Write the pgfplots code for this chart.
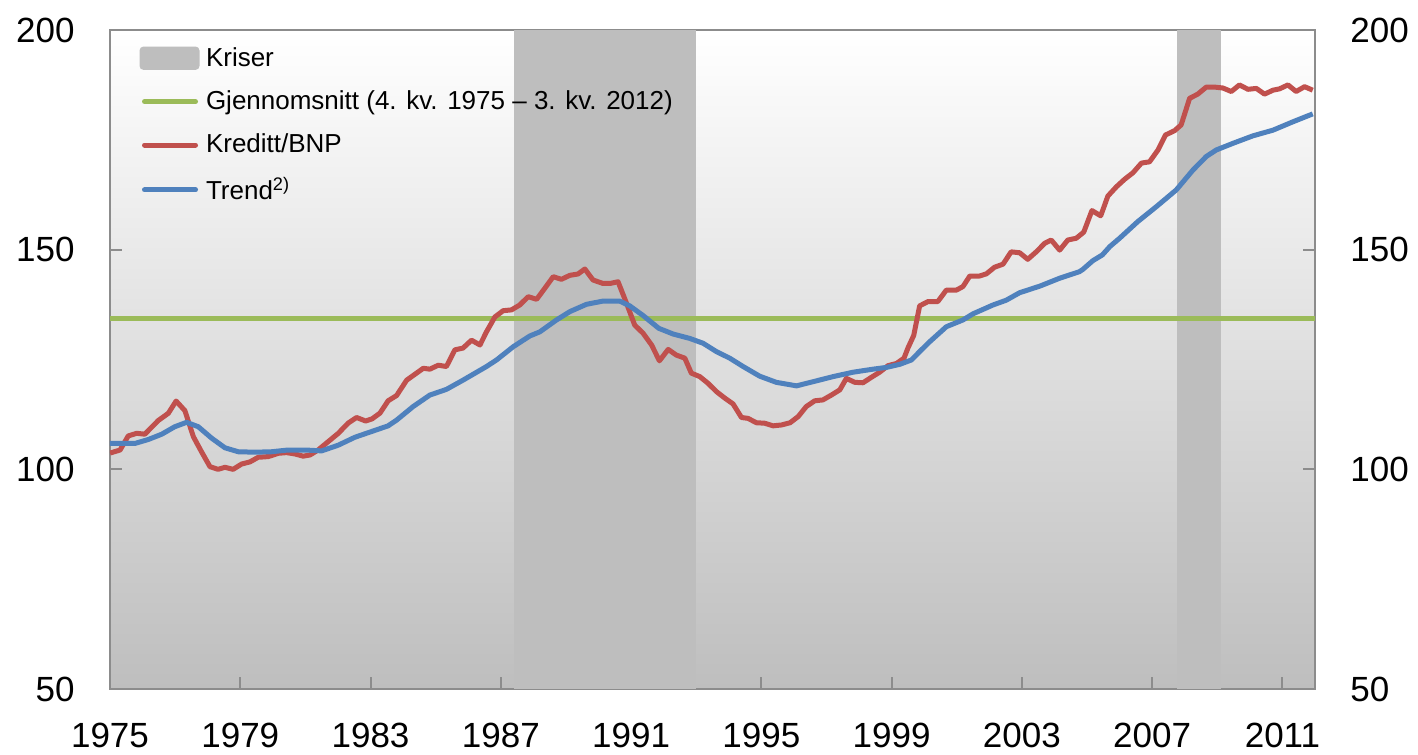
\documentclass[border=0pt]{standalone}
\usepackage{pgfplots}
\pgfplotsset{compat=1.18}
\usepackage{fontspec}
\setmainfont{Liberation Sans}
\definecolor{cred}{HTML}{C0504D}
\definecolor{cblue}{HTML}{4F81BD}
\definecolor{cgreen}{HTML}{9BBB59}
\definecolor{crisis}{RGB}{190,190,190}
\definecolor{bgbot}{RGB}{190,190,190}
\definecolor{axgray}{RGB}{140,140,140}
\begin{document}
\begin{tikzpicture}
\begin{axis}[name=main,
  scale only axis, width=602.5bp, height=329.5bp,
  xmin=1975, xmax=2012, ymin=50, ymax=200,
  axis background/.style={shade, top color=white, bottom color=bgbot},
  axis line style={axgray, line width=1bp},
  tick style={axgray, line width=1bp},
  major tick length=6bp,
  tick align=inside,
  xtick={1975,1979,...,2011},
  xticklabels={1975,1979,1983,1987,1991,1995,1999,2003,2007,2011},
  ytick={50,100,150,200},
  xtick pos=bottom, ytick pos=left,
  /pgf/number format/assume math mode=true,
  ticklabel style={font=\fontsize{17.5bp}{20bp}\selectfont, inner sep=0pt},
  yticklabel style={anchor=east, xshift=-17.5bp},
  xticklabel style={anchor=north, yshift=-17bp},
  legend style={at={(0.0221,0.9804)}, anchor=north west, draw=none, fill=none,
    font=\fontsize{13bp}{15bp}\selectfont, row sep=6.8bp,
    inner sep=0pt, cells={anchor=west}},
  legend cell align=left,
  every axis plot/.append style={line join=round},
]
\addplot[fill=crisis, draw=none, area legend,
  legend image code/.code={\fill[crisis, rounded corners=2bp] (0bp,-5.85bp) rectangle (30bp,5.85bp);}]
  coordinates {(1987.4,50) (1993.0,50) (1993.0,200) (1987.4,200)} -- cycle;
\addlegendentry{Kriser}
\addplot[fill=crisis, draw=none, forget plot]
  coordinates {(2007.75,50) (2009.1,50) (2009.1,200) (2007.75,200)} -- cycle;
\addplot[cgreen, line width=2.5bp,
  legend image code/.code={\path (0bp,0) (30bp,0); \draw[line width=2.5bp, line cap=round] (2.5bp,0) -- (28bp,0);}]
  coordinates {(1975,134.4) (2012,134.4)};
\addlegendentry{Gjennomsnitt (4. kv. 1975 – 3. kv. 2012)}
\addplot[cred, line width=2.5bp,
  legend image code/.code={\path (0bp,0) (30bp,0); \draw[line width=2.5bp, line cap=round] (2.5bp,0) -- (28bp,0);}]
  table {
1975.00 103.7
1975.31 104.4
1975.56 107.6
1975.82 108.2
1976.07 108.0
1976.48 111.1
1976.79 112.75
1977.03 115.55
1977.30 113.35
1977.56 107.43
1977.81 104.0
1978.07 100.6
1978.32 100.0
1978.53 100.46
1978.78 100.0
1979.04 101.2
1979.30 101.7
1979.55 102.74
1979.86 102.9
1980.17 103.65
1980.42 103.8
1980.68 103.5
1980.93 103.0
1981.14 103.26
1981.39 104.4
1981.70 106.3
1982.01 108.2
1982.31 110.5
1982.57 111.8
1982.85 111.0
1983.05 111.5
1983.29 112.8
1983.54 115.6
1983.80 116.8
1984.11 120.3
1984.62 123.0
1984.82 122.8
1985.08 123.7
1985.33 123.4
1985.59 127.2
1985.84 127.6
1986.10 129.4
1986.36 128.3
1986.56 131.3
1986.82 134.7
1987.07 136.1
1987.33 136.3
1987.58 137.4
1987.84 139.3
1988.10 138.7
1988.35 141.2
1988.61 143.85
1988.86 143.25
1989.12 144.16
1989.37 144.46
1989.58 145.6
1989.83 143.1
1990.14 142.3
1990.35 142.3
1990.60 142.7
1990.86 137.8
1991.11 132.85
1991.37 130.96
1991.63 128.3
1991.87 124.7
1992.14 127.3
1992.39 126.0
1992.65 125.3
1992.85 121.9
1993.11 121.1
1993.36 119.6
1993.62 117.7
1993.88 116.2
1994.13 114.9
1994.39 111.8
1994.59 111.6
1994.85 110.6
1995.10 110.5
1995.36 109.9
1995.62 110.1
1995.88 110.6
1996.13 112.0
1996.38 114.3
1996.64 115.6
1996.89 115.8
1997.15 116.9
1997.41 118.1
1997.61 120.7
1997.87 119.8
1998.12 119.7
1998.38 120.95
1998.63 122.1
1998.89 123.6
1999.15 124.1
1999.38 125.3
1999.50 127.6
1999.68 130.5
1999.86 137.2
2000.12 138.2
2000.42 138.2
2000.68 140.8
2000.99 140.8
2001.19 141.6
2001.40 144.0
2001.70 144.0
2001.91 144.5
2002.16 146.0
2002.42 146.7
2002.67 149.5
2002.93 149.3
2003.18 147.8
2003.44 149.5
2003.70 151.45
2003.90 152.2
2004.16 149.9
2004.41 152.2
2004.67 152.6
2004.90 154.0
2005.15 158.9
2005.42 157.7
2005.64 162.2
2005.90 164.3
2006.15 166.0
2006.41 167.5
2006.67 169.7
2006.92 170.0
2007.18 172.7
2007.41 176.1
2007.69 177.1
2007.89 178.4
2008.15 184.45
2008.40 185.4
2008.66 187.0
2008.92 187.0
2009.17 186.8
2009.43 186.0
2009.68 187.5
2009.94 186.5
2010.20 186.7
2010.45 185.4
2010.71 186.3
2010.91 186.6
2011.17 187.5
2011.42 186.0
2011.68 187.1
2011.93 186.3
};
\addlegendentry{Kreditt/BNP}
\addplot[cblue, line width=2.5bp,
  legend image code/.code={\path (0bp,0) (30bp,0); \draw[line width=2.5bp, line cap=round] (2.5bp,0) -- (28bp,0);}]
  table {
1975.00 105.9
1975.77 105.9
1976.18 106.8
1976.59 108.0
1976.99 109.7
1977.35 110.7
1977.71 109.7
1978.12 107.1
1978.53 104.9
1978.94 104.0
1979.45 103.9
1979.96 104.0
1980.47 104.4
1980.99 104.4
1981.50 104.2
1982.01 105.5
1982.52 107.3
1983.03 108.6
1983.54 109.9
1983.80 111.2
1984.31 114.3
1984.82 116.9
1985.33 118.2
1985.84 120.3
1986.56 123.4
1986.87 124.9
1987.38 127.9
1987.89 130.35
1988.20 131.3
1988.71 134.0
1989.12 135.9
1989.63 137.56
1990.14 138.3
1990.65 138.3
1990.96 137.2
1991.37 135.0
1991.85 132.1
1992.29 130.8
1992.80 129.8
1993.21 128.7
1993.62 126.8
1994.03 125.3
1994.44 123.4
1994.95 121.2
1995.46 119.8
1996.08 119.0
1996.59 119.95
1997.20 121.1
1997.81 122.1
1998.43 122.8
1998.84 123.2
1999.25 123.9
1999.61 124.9
1999.86 126.8
2000.17 129.05
2000.68 132.46
2001.19 134.0
2001.50 135.4
2002.11 137.4
2002.52 138.5
2002.93 140.2
2003.55 141.7
2004.16 143.5
2004.77 145.0
2004.87 145.5
2005.18 147.5
2005.47 148.8
2005.70 150.7
2006.00 152.6
2006.56 156.4
2007.13 159.8
2007.74 163.6
2008.25 168.1
2008.66 171.2
2008.97 172.7
2009.48 174.2
2010.09 175.9
2010.71 177.2
2011.32 179.1
2011.93 180.9
};
\addlegendentry{Trend\textsuperscript{2)}}
\end{axis}
\begin{axis}[
  scale only axis, width=602.5bp, height=329.5bp,
  xmin=1975, xmax=2012, ymin=50, ymax=200,
  hide x axis, axis y line*=right,
  y axis line style={draw=none},
  tick style={axgray, line width=1bp},
  major tick length=6bp,
  tick align=inside,
  ytick={50,100,150,200},
  /pgf/number format/assume math mode=true,
  ticklabel style={font=\fontsize{17.5bp}{20bp}\selectfont, inner sep=0pt},
  yticklabel style={anchor=west, xshift=17.5bp},
]
\addplot[draw=none, forget plot] coordinates {(1975,50) (2012,200)};
\end{axis}
\pgfresetboundingbox
\path[use as bounding box] ([shift={(-55bp,-33bp)}]main.south west) rectangle ([shift={(654bp,344.5bp)}]main.south west);
\end{tikzpicture}
\end{document}
